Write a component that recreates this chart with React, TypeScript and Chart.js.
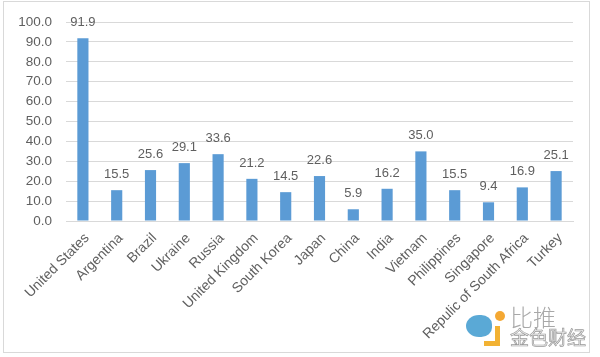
import React, { useEffect, useRef } from "react";
import { Chart, registerables } from "chart.js";

Chart.register(...registerables);

const categories = [
  "United States", "Argentina", "Brazil", "Ukraine", "Russia", "United Kingdom",
  "South Korea", "Japan", "China", "India", "Vietnam", "Philippines",
  "Singapore", "Repulic of South Africa", "Turkey",
];
const values = [91.9, 15.5, 25.6, 29.1, 33.6, 21.2, 14.5, 22.6, 5.9, 16.2, 35.0, 15.5, 9.4, 16.9, 25.1];

const FONT = "'Liberation Sans', 'Noto Sans', sans-serif";
const TEXT = "#5f5f5f";

const valueLabels = {
  id: "valueLabels",
  afterDatasetsDraw(chart: any) {
    const ctx = chart.ctx;
    const meta = chart.getDatasetMeta(0);
    ctx.save();
    ctx.font = `13px ${FONT}`;
    ctx.fillStyle = TEXT;
    ctx.textAlign = "center";
    ctx.textBaseline = "bottom";
    meta.data.forEach((bar: any, i: number) => {
      ctx.fillText(values[i].toFixed(1), bar.x, bar.y - 9);
    });
    ctx.restore();
  },
};

export default function App() {
  const ref = useRef<HTMLCanvasElement>(null);
  useEffect(() => {
    const chart = new Chart(ref.current!, {
      type: "bar",
      data: {
        labels: categories,
        datasets: [
          {
            data: values,
            backgroundColor: "#5B9BD5",
            barPercentage: 0.33,
            categoryPercentage: 1,
          },
        ],
      },
      options: {
        responsive: false,
        animation: false,
        layout: { padding: { top: 20, right: 27, left: 0, bottom: 0 } },
        plugins: { legend: { display: false }, tooltip: { enabled: false } },
        scales: {
          x: {
            grid: { display: false, drawTicks: false },
            border: { display: true, color: "#d9d9d9" },
            ticks: {
              minRotation: 45,
              maxRotation: 45,
              autoSkip: false,
              padding: 9,
              labelOffset: 4,
              color: TEXT,
              font: { size: 14, family: FONT },
            },
            afterFit: (s: any) => {
              s.height = 136;
            },
          },
          y: {
            min: 0,
            max: 100,
            grid: { color: "#d9d9d9", drawTicks: false },
            border: { display: false },
            ticks: {
              stepSize: 10,
              padding: 14,
              color: TEXT,
              font: { size: 13.5, family: FONT },
              callback: (v: any) => Number(v).toFixed(1),
            },
            afterFit: (s: any) => {
              s.width = 66;
            },
          },
        },
      },
      plugins: [valueLabels],
    });
    return () => chart.destroy();
  }, []);

  return (
    <div style={{ position: "absolute", left: 0, top: 0, width: 600, height: 357, background: "#fff" }}>
      <canvas ref={ref} width={600} height={357} style={{ position: "absolute", left: 0, top: 0 }} />
      <div
        style={{
          position: "absolute",
          left: 3,
          top: 1,
          width: 585,
          height: 350,
          border: "1px solid #d9d9d9",
          pointerEvents: "none",
        }}
      />
      <div
        style={{
          position: "absolute",
          left: 510,
          top: 304,
          fontFamily: "'Noto Sans CJK SC', sans-serif",
          fontSize: 23,
          lineHeight: "24px",
          fontWeight: 300,
          color: "#a8a8a8",
        }}
      >
        比推
      </div>
      <div
        style={{
          position: "absolute",
          left: 510,
          top: 327,
          fontFamily: "'Noto Sans CJK SC', sans-serif",
          fontSize: 19,
          lineHeight: "20px",
          color: "#eeeeee",
          WebkitTextStroke: "0.7px #9a9a9a",
        }}
      >
        金色财经
      </div>
      <div
        style={{
          position: "absolute",
          left: 484,
          top: 326,
          width: 16,
          height: 20,
          borderRight: "5px solid #f2b233",
          borderBottom: "5px solid #f2b233",
          boxSizing: "border-box",
        }}
      />
      <div
        style={{
          position: "absolute",
          left: 466,
          top: 315,
          width: 26,
          height: 22,
          borderRadius: "60% 50% 50% 60%",
          background: "#5aa9d6",
        }}
      />
      <div
        style={{
          position: "absolute",
          left: 495,
          top: 311,
          width: 10,
          height: 10,
          borderRadius: "50%",
          background: "#f4a833",
        }}
      />
    </div>
  );
}
